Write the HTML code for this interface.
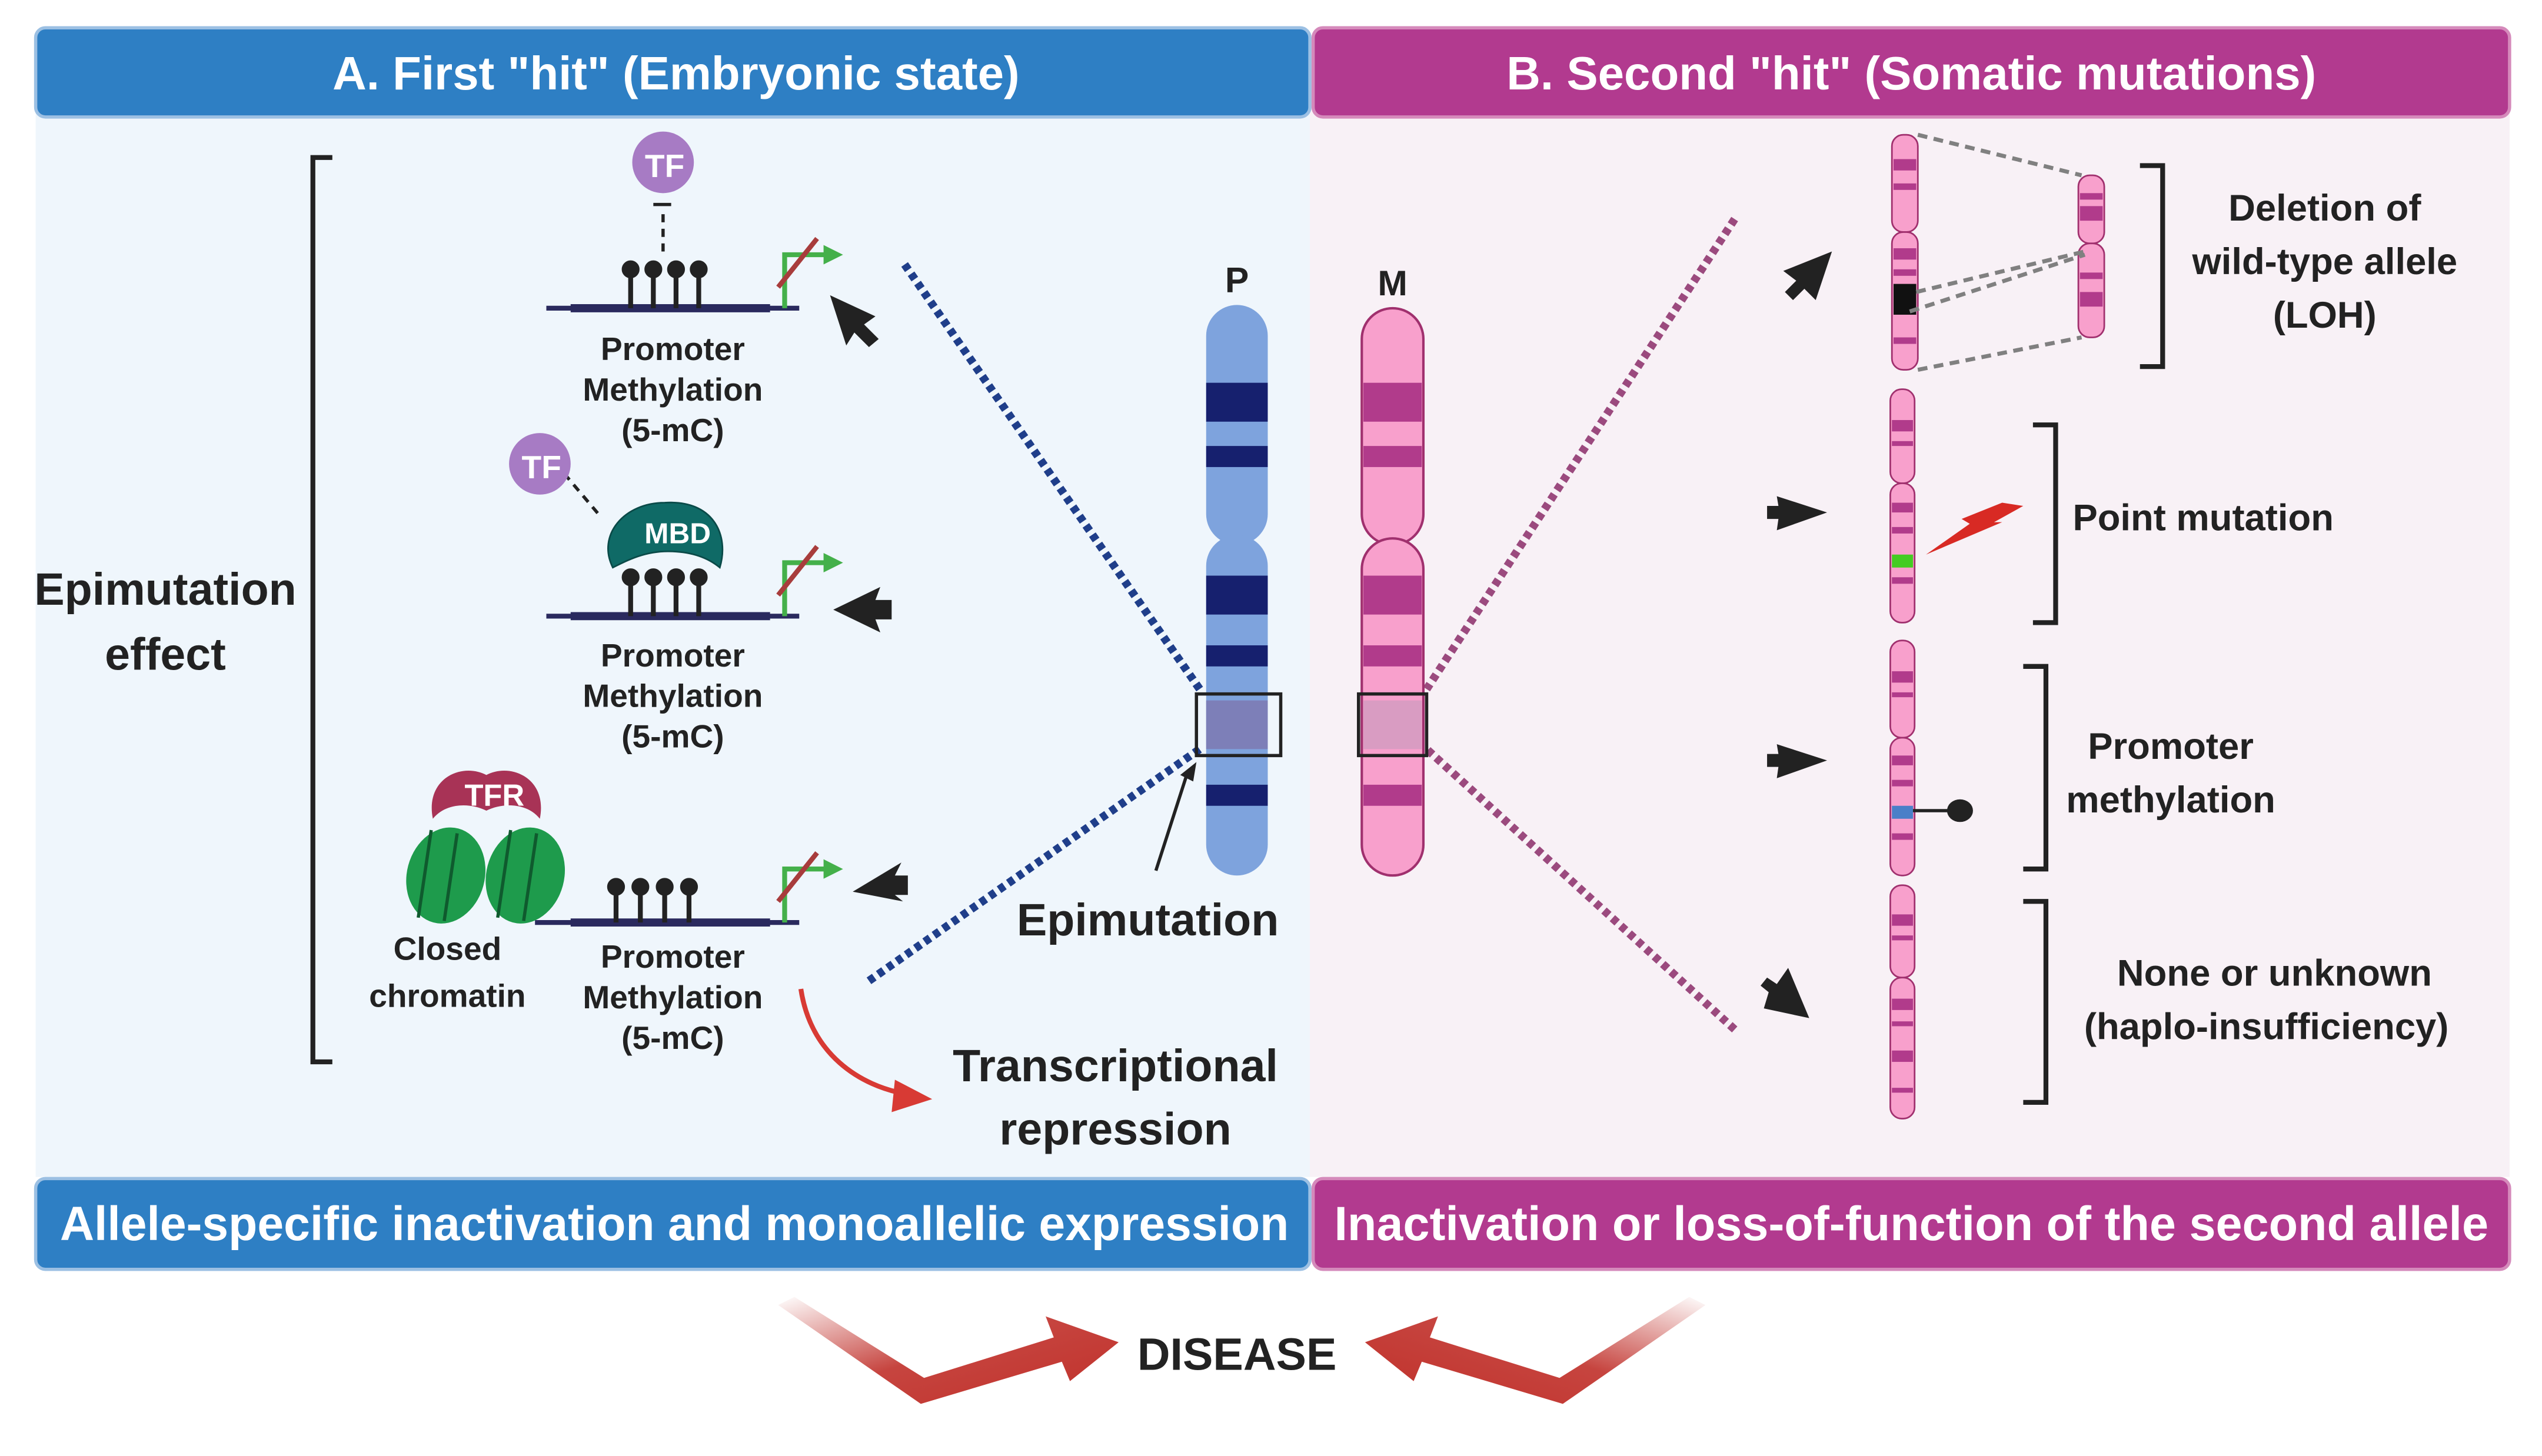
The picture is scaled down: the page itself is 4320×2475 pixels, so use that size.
<!DOCTYPE html>
<html><head><meta charset="utf-8"><style>
html,body{margin:0;padding:0;background:#fff}
svg{display:block}
text{font-family:"Liberation Sans",sans-serif;font-weight:bold}
</style></head><body>
<svg width="4320" height="2475" viewBox="0 0 1568 898" xmlns="http://www.w3.org/2000/svg">
<defs>
<linearGradient id="gl" x1="0" y1="0" x2="1" y2="1"><stop offset="0" stop-color="#c0302a" stop-opacity="0"/><stop offset="0.5" stop-color="#c0302a" stop-opacity="0.9"/><stop offset="1" stop-color="#c0302a"/></linearGradient>
<linearGradient id="gr" x1="1" y1="0" x2="0" y2="1"><stop offset="0" stop-color="#c0302a" stop-opacity="0"/><stop offset="0.5" stop-color="#c0302a" stop-opacity="0.9"/><stop offset="1" stop-color="#c0302a"/></linearGradient>
</defs>
<rect width="1568" height="898" fill="#fff"/>
<rect x="22" y="60" width="786" height="666" fill="#eff6fc"/>
<rect x="808" y="60" width="740" height="666" fill="#f8f1f6"/>
<rect x="22" y="17" width="786" height="55" rx="6" fill="#2e7fc4" stroke="#9cc0e3" stroke-width="2"/>
<rect x="810" y="17" width="738" height="55" rx="6" fill="#b23a8f" stroke="#d58abb" stroke-width="2"/>
<text x="417" y="55" font-size="29" fill="#fff" text-anchor="middle">A. First "hit"  (Embryonic state)</text>
<text x="1179" y="55" font-size="29" fill="#fff" text-anchor="middle">B. Second "hit"  (Somatic mutations)</text>
<rect x="22" y="727" width="786" height="56" rx="6" fill="#2e7fc4" stroke="#9cc0e3" stroke-width="2"/>
<rect x="810" y="727" width="738" height="56" rx="6" fill="#b23a8f" stroke="#d58abb" stroke-width="2"/>
<text x="416" y="765" font-size="29.5" fill="#fff" text-anchor="middle" textLength="758" lengthAdjust="spacingAndGlyphs">Allele-specific inactivation and monoallelic expression</text>
<text x="1179" y="765" font-size="29.5" fill="#fff" text-anchor="middle" textLength="712" lengthAdjust="spacingAndGlyphs">Inactivation or loss-of-function of the second allele</text>
<polygon points="480,805 490,800 570,850 650,825 645,812 690,828 660,852 655,840 568,866" fill="url(#gl)"/>
<polygon points="1052,805 1042,800 962,850 882,825 887,812 842,828 872,852 877,840 964,866" fill="url(#gr)"/>
<text x="763" y="845" font-size="28" fill="#222" text-anchor="middle">DISEASE</text>
<path d="M205,97 H193 V655 H205" fill="none" stroke="#222" stroke-width="3"/>
<text x="102" y="373" font-size="28" fill="#222" text-anchor="middle">Epimutation</text>
<text x="102" y="413" font-size="28" fill="#222" text-anchor="middle">effect</text>
<g fill="#222" stroke="#222">
<line x1="337" y1="190" x2="493" y2="190" stroke="#2a2a5e" stroke-width="3"/>
<line x1="352" y1="190" x2="475" y2="190" stroke="#2a2a5e" stroke-width="5"/>
<line x1="389" y1="190" x2="389" y2="170" stroke-width="3"/><circle cx="389" cy="166" r="5"/>
<line x1="403" y1="190" x2="403" y2="170" stroke-width="3"/><circle cx="403" cy="166" r="5"/>
<line x1="417" y1="190" x2="417" y2="170" stroke-width="3"/><circle cx="417" cy="166" r="5"/>
<line x1="431" y1="190" x2="431" y2="170" stroke-width="3"/><circle cx="431" cy="166" r="5"/>
<line x1="409" y1="155" x2="409" y2="128" stroke-width="2" stroke-dasharray="5,4"/>
<line x1="403" y1="126" x2="414" y2="126" stroke-width="2"/>
</g>
<path d="M484,190 V157 H510" fill="none" stroke="#44b04a" stroke-width="3"/><polygon points="508,151 520,157 508,163" fill="#44b04a"/>
<line x1="480" y1="177" x2="504" y2="147" stroke="#a83c3c" stroke-width="3"/>
<circle cx="409" cy="100" r="19" fill="#a77bc4"/><text x="410" y="109" font-size="20" fill="#fff" text-anchor="middle">TF</text>
<text x="415" y="222" font-size="20" fill="#222" text-anchor="middle">Promoter</text>
<text x="415" y="247" font-size="20" fill="#222" text-anchor="middle">Methylation</text>
<text x="415" y="272" font-size="20" fill="#222" text-anchor="middle">(5-mC)</text>
<polygon points="512,182 540,195 533,200 542,209 536,214 527,205 522,213" fill="#222"/>
<g fill="#222" stroke="#222">
<line x1="337" y1="380" x2="493" y2="380" stroke="#2a2a5e" stroke-width="3"/>
<line x1="352" y1="380" x2="475" y2="380" stroke="#2a2a5e" stroke-width="5"/>
<line x1="389" y1="380" x2="389" y2="360" stroke-width="3"/><circle cx="389" cy="356" r="5"/>
<line x1="403" y1="380" x2="403" y2="360" stroke-width="3"/><circle cx="403" cy="356" r="5"/>
<line x1="417" y1="380" x2="417" y2="360" stroke-width="3"/><circle cx="417" cy="356" r="5"/>
<line x1="431" y1="380" x2="431" y2="360" stroke-width="3"/><circle cx="431" cy="356" r="5"/>
<line x1="348" y1="292" x2="370" y2="318" stroke-width="2" stroke-dasharray="5,4"/>
</g>
<path d="M378,350 C368,330 385,310 410,310 C440,308 450,330 444,350 C438,345 428,340 412,340 C398,340 388,345 378,350Z" fill="#0f6a66" stroke="#0a4a48"/>
<text x="418" y="335" font-size="18" fill="#fff" text-anchor="middle">MBD</text>
<path d="M484,380 V347 H510" fill="none" stroke="#44b04a" stroke-width="3"/><polygon points="508,341 520,347 508,353" fill="#44b04a"/>
<line x1="480" y1="367" x2="504" y2="337" stroke="#a83c3c" stroke-width="3"/>
<circle cx="333" cy="286" r="19" fill="#a77bc4"/><text x="334" y="295" font-size="20" fill="#fff" text-anchor="middle">TF</text>
<text x="415" y="411" font-size="20" fill="#222" text-anchor="middle">Promoter</text>
<text x="415" y="436" font-size="20" fill="#222" text-anchor="middle">Methylation</text>
<text x="415" y="461" font-size="20" fill="#222" text-anchor="middle">(5-mC)</text>
<polygon points="514,376 543,362 540,370 550,370 550,382 540,382 543,390" fill="#222"/>
<g fill="#222" stroke="#222">
<line x1="330" y1="569" x2="493" y2="569" stroke="#2a2a5e" stroke-width="3"/>
<line x1="352" y1="569" x2="475" y2="569" stroke="#2a2a5e" stroke-width="5"/>
<line x1="380" y1="569" x2="380" y2="551" stroke-width="3"/><circle cx="380" cy="547" r="5"/>
<line x1="395" y1="569" x2="395" y2="551" stroke-width="3"/><circle cx="395" cy="547" r="5"/>
<line x1="410" y1="569" x2="410" y2="551" stroke-width="3"/><circle cx="410" cy="547" r="5"/>
<line x1="425" y1="569" x2="425" y2="551" stroke-width="3"/><circle cx="425" cy="547" r="5"/>
</g>
<path d="M484,569 V536 H510" fill="none" stroke="#44b04a" stroke-width="3"/><polygon points="508,530 520,536 508,542" fill="#44b04a"/>
<line x1="480" y1="556" x2="504" y2="526" stroke="#a83c3c" stroke-width="3"/>
<ellipse cx="275" cy="540" rx="24" ry="30" fill="#1e9b4c" transform="rotate(15 275 540)"/>
<ellipse cx="324" cy="540" rx="24" ry="30" fill="#1e9b4c" transform="rotate(15 324 540)"/>
<g stroke="#0f5a2e" stroke-width="2"><line x1="266" y1="512" x2="258" y2="566"/><line x1="282" y1="514" x2="274" y2="568"/><line x1="315" y1="512" x2="307" y2="566"/><line x1="331" y1="514" x2="323" y2="568"/></g>
<path d="M267,505 C262,480 285,470 300,478 C315,470 338,480 333,505 C325,495 310,495 300,500 C290,495 275,495 267,505Z" fill="#a83356"/>
<text x="305" y="497" font-size="19" fill="#fff" text-anchor="middle">TFR</text>
<text x="276" y="592" font-size="20" fill="#222" text-anchor="middle">Closed</text>
<text x="276" y="621" font-size="20" fill="#222" text-anchor="middle">chromatin</text>
<text x="415" y="597" font-size="20" fill="#222" text-anchor="middle">Promoter</text>
<text x="415" y="622" font-size="20" fill="#222" text-anchor="middle">Methylation</text>
<text x="415" y="647" font-size="20" fill="#222" text-anchor="middle">(5-mC)</text>
<polygon points="526,550 556,532 552,540 560,540 560,552 552,552 557,556" fill="#222"/>
<path d="M494,610 C500,650 530,670 560,675" fill="none" stroke="#d83a34" stroke-width="3"/>
<polygon points="552,666 575,678 550,686" fill="#d83a34"/>
<text x="688" y="667" font-size="28" fill="#222" text-anchor="middle">Transcriptional</text>
<text x="688" y="706" font-size="28" fill="#222" text-anchor="middle">repression</text>
<line x1="558" y1="163" x2="740" y2="425" stroke="#1f3e8a" stroke-width="5" stroke-dasharray="4,3"/>
<line x1="536" y1="605" x2="740" y2="462" stroke="#1f3e8a" stroke-width="5" stroke-dasharray="4,3"/>
<line x1="1070" y1="135" x2="880" y2="425" stroke="#9b4a7e" stroke-width="5" stroke-dasharray="4,3"/>
<line x1="1070" y1="635" x2="880" y2="462" stroke="#9b4a7e" stroke-width="5" stroke-dasharray="4,3"/>
<text x="763" y="180" font-size="22" fill="#222" text-anchor="middle">P</text>
<rect x="744" y="188" width="38" height="148" rx="19" fill="#7ea3dd"/>
<rect x="744" y="330" width="38" height="210" rx="19" fill="#7ea3dd"/>
<g fill="#16206e"><rect x="744" y="236" width="38" height="24"/><rect x="744" y="275" width="38" height="13"/><rect x="744" y="355" width="38" height="24"/><rect x="744" y="398" width="38" height="13"/><rect x="744" y="484" width="38" height="13"/></g>
<rect x="744" y="432" width="38" height="30" fill="#7d7fb8"/>
<rect x="738" y="428" width="52" height="38" fill="none" stroke="#222" stroke-width="2"/>
<line x1="713" y1="537" x2="732" y2="478" stroke="#222" stroke-width="2"/><polygon points="728,478 738,470 736,482" fill="#222"/>
<text x="708" y="577" font-size="28" fill="#222" text-anchor="middle">Epimutation</text>
<text x="859" y="182" font-size="22" fill="#222" text-anchor="middle">M</text>
<rect x="840" y="190" width="38" height="146" rx="19" fill="#f8a0cc" stroke="#a0306e" stroke-width="1.5"/>
<rect x="840" y="332" width="38" height="208" rx="19" fill="#f8a0cc" stroke="#a0306e" stroke-width="1.5"/>
<g fill="#b13b8b"><rect x="841" y="236" width="36" height="24"/><rect x="841" y="275" width="36" height="13"/><rect x="841" y="355" width="36" height="24"/><rect x="841" y="398" width="36" height="13"/><rect x="841" y="484" width="36" height="13"/></g>
<rect x="841" y="432" width="36" height="30" fill="#d99cc2"/>
<rect x="838" y="428" width="42" height="38" fill="none" stroke="#222" stroke-width="2"/>
<g stroke="#a0306e" stroke-width="1" fill="#f8a0cc">
<rect x="1167" y="83" width="16" height="60" rx="7"/><rect x="1167" y="143" width="16" height="85" rx="7"/>
<rect x="1282" y="108" width="16" height="42" rx="7"/><rect x="1282" y="150" width="16" height="58" rx="7"/>
<rect x="1166" y="240" width="15" height="58" rx="7"/><rect x="1166" y="298" width="15" height="86" rx="7"/>
<rect x="1166" y="395" width="15" height="60" rx="7"/><rect x="1166" y="455" width="15" height="85" rx="7"/>
<rect x="1166" y="546" width="15" height="57" rx="7"/><rect x="1166" y="603" width="15" height="87" rx="7"/>
</g>
<g fill="#b13b8b">
<rect x="1168" y="98" width="14" height="7"/><rect x="1168" y="113" width="14" height="4"/><rect x="1168" y="153" width="14" height="7"/><rect x="1168" y="166" width="14" height="4"/><rect x="1168" y="208" width="14" height="4"/>
<rect x="1283" y="119" width="14" height="4"/><rect x="1283" y="127" width="14" height="9"/><rect x="1283" y="168" width="14" height="4"/><rect x="1283" y="180" width="14" height="9"/>
<rect x="1167" y="259" width="13" height="7"/><rect x="1167" y="272" width="13" height="3"/><rect x="1167" y="310" width="13" height="6"/><rect x="1167" y="325" width="13" height="4"/><rect x="1167" y="356" width="13" height="4"/>
<rect x="1167" y="414" width="13" height="7"/><rect x="1167" y="427" width="13" height="3"/><rect x="1167" y="466" width="13" height="6"/><rect x="1167" y="481" width="13" height="4"/><rect x="1167" y="514" width="13" height="4"/>
<rect x="1167" y="564" width="13" height="7"/><rect x="1167" y="577" width="13" height="3"/><rect x="1167" y="616" width="13" height="7"/><rect x="1167" y="630" width="13" height="3"/><rect x="1167" y="648" width="13" height="7"/><rect x="1167" y="671" width="13" height="3"/>
</g>
<rect x="1168" y="175" width="14" height="19" fill="#111"/>
<rect x="1167" y="342" width="13" height="8" fill="#44cc22"/>
<rect x="1167" y="497" width="13" height="8" fill="#4a7fc8"/>
<line x1="1180" y1="500" x2="1205" y2="500" stroke="#222" stroke-width="2"/><ellipse cx="1209" cy="500" rx="8" ry="7" fill="#222"/>
<polygon points="1188,342 1215,323 1210,320 1235,310 1248,312 1230,322 1235,322" fill="#d82a24"/>
<g stroke="#808080" stroke-width="2.5" stroke-dasharray="6,4" fill="none">
<line x1="1183" y1="83" x2="1284" y2="108"/><line x1="1183" y1="228" x2="1284" y2="208"/><line x1="1182" y1="180" x2="1286" y2="155"/><line x1="1178" y1="192" x2="1286" y2="157"/>
</g>
<polygon points="1130,155 1120,185 1113,178 1106,185 1101,180 1108,173 1100,167" fill="#222"/>
<polygon points="1127,316 1096,306 1097,312 1090,312 1090,320 1097,320 1096,327" fill="#222"/>
<polygon points="1127,469 1096,459 1097,465 1090,465 1090,473 1097,473 1096,480" fill="#222"/>
<polygon points="1116,628 1088,622 1091,612 1086,608 1090,603 1096,607 1103,597" fill="#222"/>
<g fill="none" stroke="#222" stroke-width="3">
<path d="M1320,102 H1334 V226 H1320"/><path d="M1254,262 H1268 V384 H1254"/><path d="M1248,411 H1262 V536 H1248"/><path d="M1248,556 H1262 V680 H1248"/>
</g>
<g font-size="23" fill="#222" text-anchor="middle">
<text x="1434" y="136">Deletion of</text><text x="1434" y="169">wild-type allele</text><text x="1434" y="202">(LOH)</text>
<text x="1359" y="327">Point mutation</text>
<text x="1339" y="468">Promoter</text><text x="1339" y="501">methylation</text>
<text x="1403" y="608">None or unknown</text><text x="1398" y="641">(haplo-insufficiency)</text>
</g>
</svg>
</body></html>
